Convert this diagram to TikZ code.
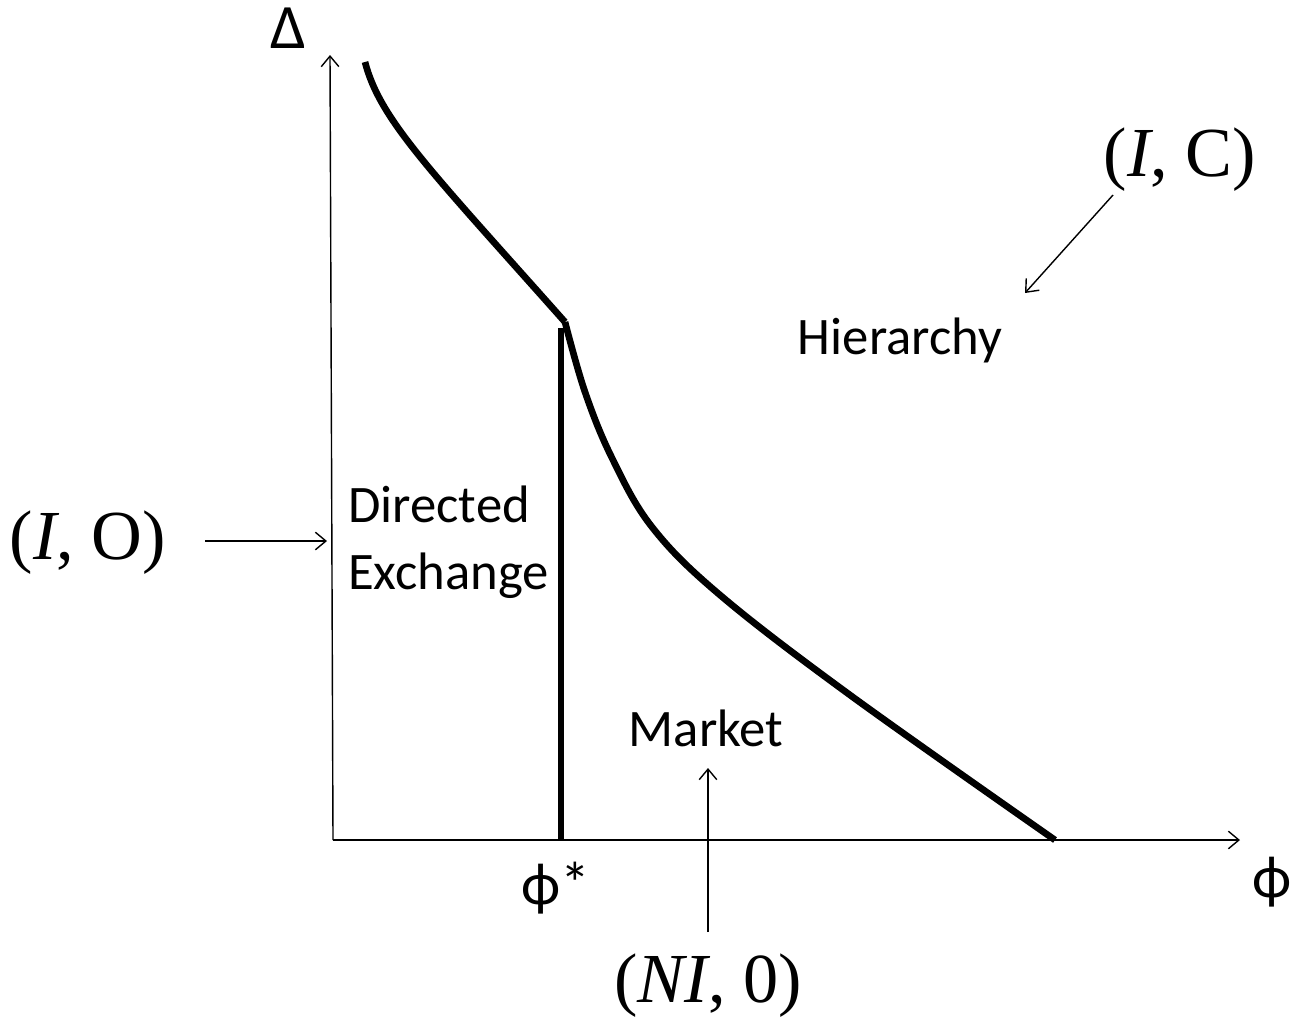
\documentclass[tikz,border=0pt]{standalone}
\usepackage{fontspec}
\setmainfont{Carlito}
\newfontfamily\outfont{Liberation Serif}
\usepackage{tikz}
\usetikzlibrary{arrows.meta, positioning}

\begin{document}
\begin{tikzpicture}[x=0.02cm, y=-0.02cm, >={Straight Barb[length=6pt, width=10pt]},
    outcome/.style={font=\outfont\fontsize{40}{48}\selectfont}]

            \useasboundingbox (0,0) rectangle (1297,1022);

            % Axes
            \coordinate (origin) at (333,840);
            \coordinate (yend) at (330,55);
            \coordinate (xend) at (1240,840);
            \draw[->, line width=0.8pt] (origin) -- (yend);
            \draw[->, line width=0.8pt] (origin) -- (xend);

            % Axis labels
            \node[font=\fontsize{36}{42}\selectfont] (delta) at (288,28) {Δ};
            \node[font=\fontsize{34}{40}\selectfont] (phi) at (1272,882) {ϕ};
            \node[font=\fontsize{34}{40}\selectfont] (phistar) at (556,888) {ϕ*};

            % Boundaries
            \coordinate (kink) at (565,322);
            \coordinate (kinkfoot) at (561,840);
            \draw[line width=3.8pt, line join=round] (365,62) .. controls (380,120) and (430,170) .. (kink);
            \draw[line width=3.8pt] (561,328) -- (kinkfoot);
            \draw[line width=3.8pt, line join=round] plot[smooth, tension=0.6] coordinates {(565,322) (585,392) (612,458) (652,527) (720,595) (850,695) (1055,840)};

            % Regions
            \node[font=\fontsize{30}{38}\selectfont] (hier) at (900,340) {Hierarchy};
            \node[font=\fontsize{30}{38}\selectfont, align=left, anchor=west] (direx) at (342,542) {Directed\\Exchange};
            \node[font=\fontsize{30}{38}\selectfont] (market) at (706,728) {Market};

            % Outcome labels
            \node[outcome] (ic) at (1180,160) {(\textit{I}, C)};
            \node[outcome] (io) at (88,543) {(\textit{I}, O)};
            \node[outcome] (ni) at (708,986) {(\textit{NI}, 0)};

            % Arrows
            \coordinate (icfrom) at (1113,195);
            \coordinate (icto) at (1025,293);
            \coordinate (iofrom) at (205,541);
            \coordinate (ioto) at (327,541);
            \coordinate (nifrom) at (708,932);
            \coordinate (nito) at (708,768);
            \draw[->, line width=0.8pt] (icfrom) -- (icto);
            \draw[->, line width=0.8pt] (iofrom) -- (ioto);
            \draw[->, line width=0.8pt] (nifrom) -- (nito);

        \end{tikzpicture}
\end{document}
